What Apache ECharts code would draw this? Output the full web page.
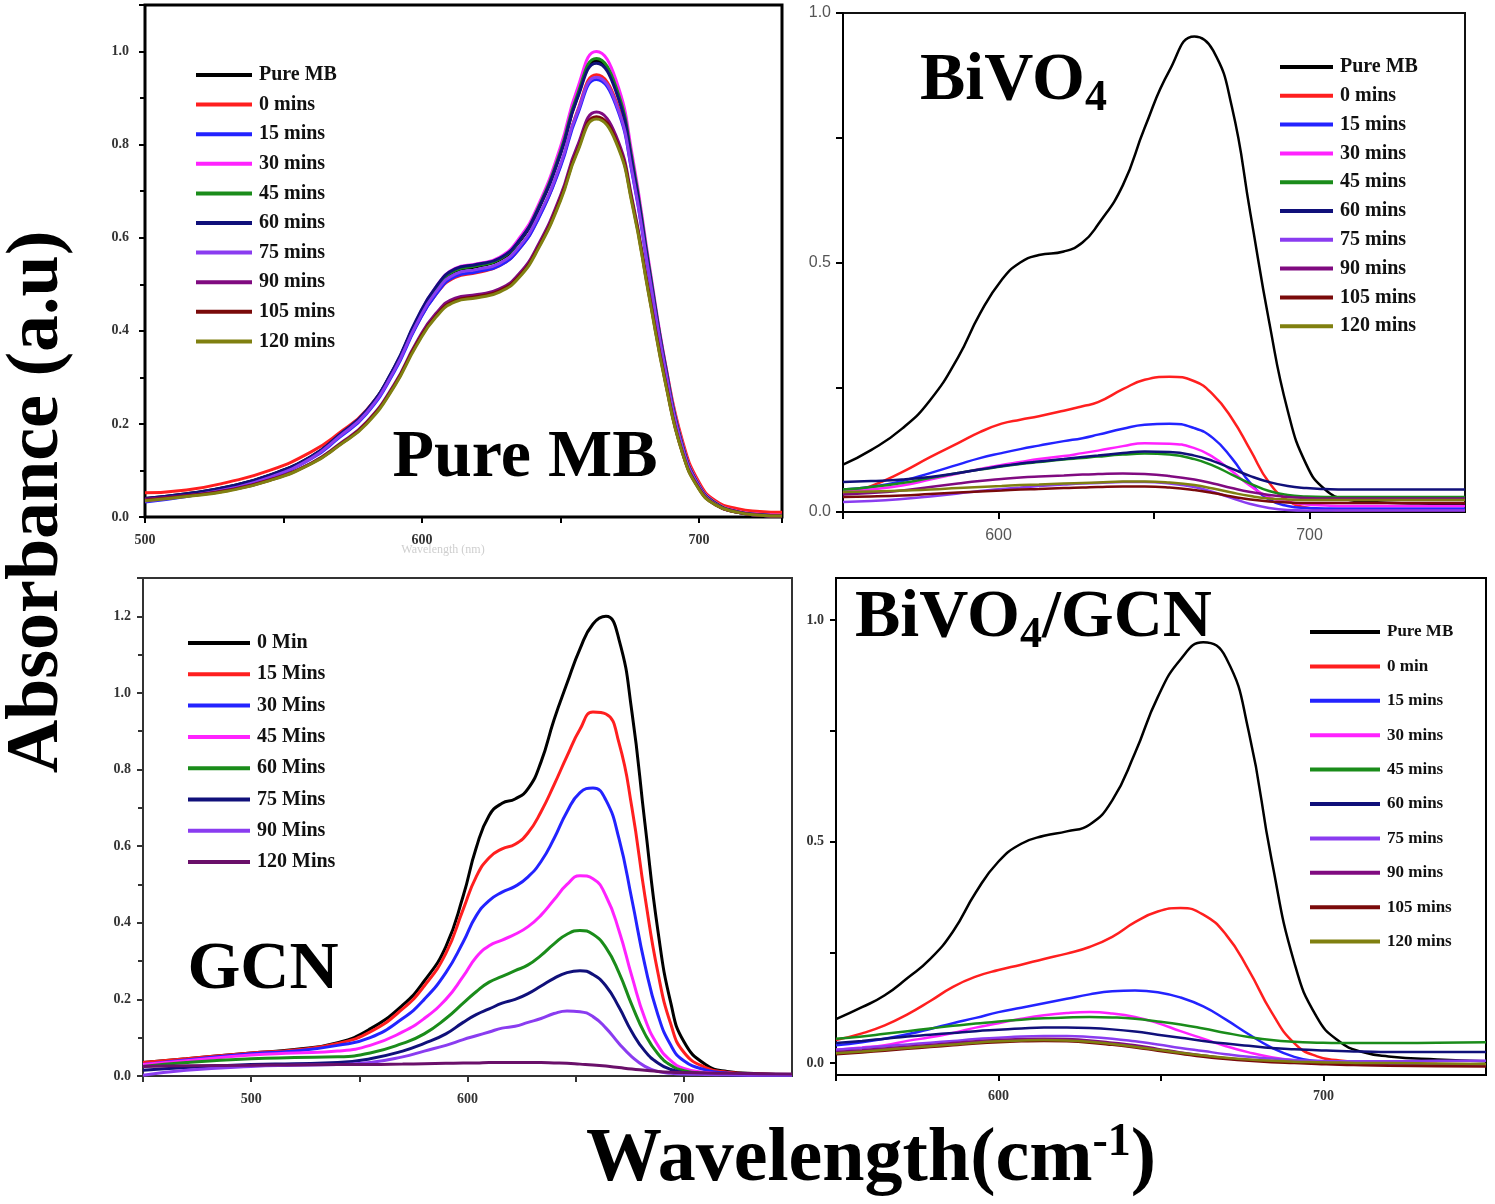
<!DOCTYPE html>
<html>
<head>
<meta charset="utf-8">
<title>MB degradation spectra</title>
<script src="https://cdn.jsdelivr.net/npm/echarts@6/dist/echarts.min.js"></script>
<style>
    html, body { margin: 0; padding: 0; background: #fff; }
    #main { width: 1495px; height: 1204px; }
</style>
</head>
<body>
<div id="main"></div>
<script>
// ---- Pure MB panel (top left) ----
var wlMB = [500, 515, 530, 545, 560, 570, 580, 590, 598, 605, 612, 620, 628, 635, 642, 650, 656, 663, 670, 676, 682, 688, 694, 700, 706, 714, 722, 730];
var mbPure = [0.040, 0.050, 0.065, 0.090, 0.130, 0.175, 0.228, 0.320, 0.420, 0.490, 0.528, 0.538, 0.552, 0.590, 0.660, 0.780, 0.900, 0.980, 0.920, 0.760, 0.535, 0.320, 0.155, 0.068, 0.030, 0.012, 0.006, 0.004];
var mb0 = [0.052, 0.058, 0.075, 0.100, 0.140, 0.180, 0.230, 0.318, 0.412, 0.478, 0.515, 0.525, 0.540, 0.575, 0.642, 0.755, 0.870, 0.950, 0.895, 0.745, 0.530, 0.325, 0.165, 0.075, 0.035, 0.018, 0.012, 0.010];
var mb15 = [0.032, 0.044, 0.060, 0.085, 0.125, 0.170, 0.222, 0.312, 0.410, 0.478, 0.517, 0.527, 0.540, 0.575, 0.640, 0.752, 0.862, 0.940, 0.885, 0.735, 0.520, 0.312, 0.150, 0.065, 0.028, 0.010, 0.004, 0.002];
var mb30 = [0.038, 0.048, 0.063, 0.088, 0.128, 0.174, 0.227, 0.320, 0.422, 0.494, 0.534, 0.544, 0.558, 0.598, 0.670, 0.795, 0.918, 1.000, 0.940, 0.775, 0.545, 0.326, 0.158, 0.070, 0.031, 0.012, 0.006, 0.004];
var mb45 = [0.038, 0.048, 0.063, 0.088, 0.128, 0.174, 0.227, 0.320, 0.420, 0.490, 0.530, 0.540, 0.554, 0.592, 0.664, 0.785, 0.905, 0.985, 0.925, 0.764, 0.538, 0.322, 0.156, 0.068, 0.030, 0.011, 0.005, 0.003];
var mb60 = [0.040, 0.050, 0.065, 0.090, 0.130, 0.176, 0.229, 0.322, 0.424, 0.494, 0.533, 0.543, 0.556, 0.593, 0.662, 0.780, 0.898, 0.975, 0.915, 0.757, 0.533, 0.319, 0.154, 0.067, 0.029, 0.011, 0.005, 0.003];
var mb75 = [0.034, 0.045, 0.060, 0.085, 0.126, 0.172, 0.224, 0.315, 0.414, 0.483, 0.522, 0.532, 0.545, 0.580, 0.646, 0.758, 0.868, 0.945, 0.890, 0.738, 0.522, 0.313, 0.151, 0.066, 0.028, 0.010, 0.004, 0.002];
var mb90 = [0.038, 0.046, 0.058, 0.080, 0.116, 0.156, 0.204, 0.285, 0.375, 0.437, 0.470, 0.478, 0.490, 0.522, 0.585, 0.690, 0.795, 0.870, 0.820, 0.680, 0.482, 0.290, 0.140, 0.062, 0.027, 0.010, 0.004, 0.002];
var mb105 = [0.036, 0.045, 0.057, 0.079, 0.115, 0.154, 0.202, 0.282, 0.371, 0.432, 0.465, 0.474, 0.486, 0.517, 0.579, 0.683, 0.786, 0.860, 0.811, 0.673, 0.477, 0.287, 0.139, 0.061, 0.026, 0.010, 0.004, 0.002];
var mb120 = [0.035, 0.044, 0.056, 0.078, 0.114, 0.153, 0.200, 0.280, 0.368, 0.429, 0.462, 0.471, 0.483, 0.514, 0.576, 0.679, 0.782, 0.855, 0.806, 0.669, 0.474, 0.285, 0.138, 0.060, 0.026, 0.010, 0.004, 0.002];

// ---- BiVO4 panel (top right) ----
var wlBV = [550, 559, 569, 578, 587, 594, 601, 607, 613, 621, 627, 632, 640, 647, 655, 663, 669, 675, 681, 687, 693, 699, 705, 712, 720, 735, 750];
var bvPure = [0.095, 0.124, 0.167, 0.224, 0.31, 0.397, 0.465, 0.5, 0.515, 0.522, 0.54, 0.576, 0.655, 0.77, 0.885, 0.953, 0.925, 0.813, 0.598, 0.382, 0.203, 0.095, 0.045, 0.025, 0.02, 0.017, 0.015];
var bv0 = [0.037, 0.052, 0.08, 0.11, 0.138, 0.16, 0.177, 0.185, 0.192, 0.203, 0.212, 0.22, 0.246, 0.265, 0.271, 0.262, 0.235, 0.188, 0.124, 0.059, 0.023, 0.009, 0.005, 0.004, 0.004, 0.004, 0.004];
var bv15 = [0.045, 0.05, 0.062, 0.078, 0.095, 0.108, 0.118, 0.126, 0.133, 0.142, 0.148, 0.155, 0.167, 0.175, 0.177, 0.168, 0.148, 0.108, 0.058, 0.025, 0.012, 0.008, 0.007, 0.007, 0.007, 0.007, 0.007];
var bv30 = [0.04, 0.045, 0.053, 0.065, 0.077, 0.086, 0.094, 0.1, 0.106, 0.112, 0.118, 0.123, 0.132, 0.138, 0.137, 0.128, 0.11, 0.082, 0.052, 0.03, 0.02, 0.015, 0.013, 0.012, 0.012, 0.012, 0.012];
var bv45 = [0.045, 0.05, 0.058, 0.068, 0.078, 0.085, 0.091, 0.096, 0.1, 0.105, 0.108, 0.111, 0.115, 0.117, 0.115, 0.106, 0.093, 0.075, 0.057, 0.042, 0.034, 0.031, 0.03, 0.03, 0.03, 0.03, 0.03];
var bv60 = [0.06, 0.062, 0.065, 0.07, 0.078, 0.085, 0.092, 0.097, 0.101, 0.106, 0.11, 0.113, 0.118, 0.121, 0.12, 0.113, 0.102, 0.087, 0.072, 0.06, 0.052, 0.048, 0.046, 0.045, 0.045, 0.045, 0.045];
var bv75 = [0.02, 0.022, 0.026, 0.031, 0.037, 0.042, 0.046, 0.049, 0.052, 0.055, 0.057, 0.058, 0.06, 0.06, 0.057, 0.05, 0.04, 0.028, 0.016, 0.008, 0.004, 0.003, 0.003, 0.003, 0.003, 0.003, 0.003];
var bv90 = [0.035, 0.038, 0.043, 0.05, 0.057, 0.062, 0.066, 0.069, 0.071, 0.073, 0.075, 0.076, 0.077, 0.076, 0.072, 0.065, 0.057, 0.048, 0.04, 0.034, 0.03, 0.028, 0.027, 0.027, 0.027, 0.027, 0.027];
var bv105 = [0.03, 0.031, 0.033, 0.036, 0.039, 0.041, 0.043, 0.045, 0.046, 0.048, 0.049, 0.05, 0.051, 0.051, 0.049, 0.044, 0.038, 0.031, 0.025, 0.021, 0.019, 0.018, 0.018, 0.018, 0.018, 0.018, 0.018];
var bv120 = [0.04, 0.041, 0.043, 0.045, 0.048, 0.05, 0.052, 0.054, 0.055, 0.057, 0.058, 0.059, 0.061, 0.061, 0.059, 0.054, 0.047, 0.039, 0.032, 0.027, 0.025, 0.024, 0.024, 0.024, 0.024, 0.024, 0.024];

// ---- GCN panel (bottom left) ----
var wlGCN = [450, 470, 500, 520, 540, 555, 570, 580, 590, 598, 604, 610, 616, 622, 628, 634, 640, 646, 652, 658, 664, 670, 676, 682, 688, 694, 700, 710, 720, 735, 750];
var gcn0 = [0.035, 0.045, 0.06, 0.069, 0.087, 0.123, 0.185, 0.248, 0.338, 0.47, 0.595, 0.68, 0.712, 0.723, 0.75, 0.82, 0.93, 1.025, 1.115, 1.18, 1.2, 1.14, 0.95, 0.66, 0.38, 0.19, 0.09, 0.03, 0.012, 0.006, 0.003];
var gcn15 = [0.035, 0.045, 0.06, 0.068, 0.085, 0.115, 0.175, 0.235, 0.32, 0.435, 0.52, 0.57, 0.593, 0.605, 0.635, 0.69, 0.76, 0.835, 0.905, 0.95, 0.945, 0.87, 0.7, 0.47, 0.27, 0.135, 0.062, 0.022, 0.01, 0.005, 0.003];
var gcn30 = [0.03, 0.042, 0.058, 0.065, 0.08, 0.1, 0.15, 0.2, 0.27, 0.35, 0.418, 0.458, 0.48, 0.495, 0.52, 0.56, 0.62, 0.69, 0.74, 0.752, 0.72, 0.62, 0.46, 0.29, 0.16, 0.08, 0.04, 0.016, 0.008, 0.004, 0.003];
var gcn45 = [0.03, 0.04, 0.055, 0.06, 0.065, 0.08, 0.115, 0.15, 0.2, 0.26, 0.31, 0.34, 0.355, 0.37, 0.39, 0.42, 0.46, 0.5, 0.523, 0.515, 0.47, 0.38, 0.26, 0.15, 0.08, 0.04, 0.02, 0.009, 0.005, 0.003, 0.002];
var gcn60 = [0.025, 0.035, 0.045, 0.048, 0.05, 0.06, 0.085, 0.11, 0.15, 0.19, 0.22, 0.245, 0.26, 0.275, 0.29, 0.315, 0.345, 0.37, 0.38, 0.37, 0.335, 0.27, 0.185, 0.11, 0.058, 0.028, 0.014, 0.007, 0.004, 0.003, 0.002];
var gcn75 = [0.015, 0.022, 0.03, 0.032, 0.035, 0.045, 0.065, 0.085, 0.11, 0.14, 0.16, 0.175, 0.19, 0.2, 0.215, 0.235, 0.255, 0.27, 0.275, 0.265, 0.235, 0.18, 0.115, 0.065, 0.034, 0.017, 0.009, 0.005, 0.003, 0.002, 0.002];
var gcn90 = [0.002, 0.015, 0.025, 0.028, 0.03, 0.035, 0.05, 0.065, 0.08, 0.095, 0.105, 0.115, 0.125, 0.13, 0.14, 0.15, 0.163, 0.17, 0.168, 0.155, 0.125, 0.085, 0.05, 0.025, 0.012, 0.007, 0.005, 0.004, 0.003, 0.002, 0.002];
var gcn120 = [0.025, 0.027, 0.028, 0.029, 0.03, 0.03, 0.031, 0.032, 0.033, 0.034, 0.034, 0.035, 0.035, 0.035, 0.035, 0.035, 0.034, 0.033, 0.031, 0.029, 0.026, 0.022, 0.018, 0.015, 0.012, 0.01, 0.009, 0.008, 0.007, 0.006, 0.005];

// ---- BiVO4/GCN panel (bottom right) ----
var wlBG = [550, 558, 565, 572, 579, 586, 593, 600, 607, 614, 621, 628, 635, 642, 649, 656, 663, 670, 677, 684, 691, 698, 705, 712, 720, 735, 750];
var bgPure = [0.099, 0.126, 0.153, 0.192, 0.235, 0.297, 0.385, 0.455, 0.495, 0.513, 0.523, 0.538, 0.593, 0.7, 0.826, 0.911, 0.95, 0.915, 0.748, 0.46, 0.227, 0.103, 0.048, 0.025, 0.015, 0.008, 0.004];
var bg0 = [0.052, 0.067, 0.085, 0.11, 0.14, 0.172, 0.195, 0.21, 0.222, 0.235, 0.247, 0.262, 0.285, 0.318, 0.342, 0.35, 0.335, 0.29, 0.21, 0.115, 0.045, 0.015, 0.006, 0.003, 0.001, -0.002, -0.004];
var bg15 = [0.04, 0.047, 0.055, 0.065, 0.077, 0.09, 0.102, 0.115, 0.125, 0.135, 0.145, 0.155, 0.162, 0.164, 0.16, 0.148, 0.128, 0.098, 0.065, 0.035, 0.014, 0.004, 0.0, -0.002, -0.003, -0.004, -0.005];
var bg30 = [0.03, 0.035, 0.04, 0.05, 0.058, 0.068, 0.08, 0.09, 0.1, 0.108, 0.113, 0.115, 0.112, 0.104, 0.09, 0.072, 0.055, 0.038, 0.024, 0.013, 0.006, 0.002, 0.0, 0.0, -0.001, -0.002, -0.003];
var bg45 = [0.055, 0.06, 0.066, 0.072, 0.078, 0.084, 0.089, 0.094, 0.098, 0.101, 0.103, 0.104, 0.103, 0.1, 0.094, 0.087, 0.078, 0.068, 0.059, 0.052, 0.048, 0.046, 0.045, 0.045, 0.045, 0.046, 0.047];
var bg60 = [0.045, 0.05, 0.055, 0.06, 0.064, 0.068, 0.072, 0.075, 0.078, 0.08, 0.08, 0.079, 0.076, 0.071, 0.064, 0.057, 0.05, 0.044, 0.039, 0.034, 0.031, 0.029, 0.027, 0.026, 0.025, 0.025, 0.025];
var bg75 = [0.03, 0.034, 0.038, 0.042, 0.046, 0.05, 0.054, 0.057, 0.06, 0.061, 0.061, 0.059, 0.055, 0.049, 0.042, 0.034, 0.027, 0.02, 0.014, 0.01, 0.007, 0.005, 0.004, 0.004, 0.004, 0.005, 0.005];
var bg90 = [0.025, 0.029, 0.033, 0.037, 0.041, 0.045, 0.049, 0.052, 0.054, 0.055, 0.054, 0.051, 0.046, 0.04, 0.032, 0.024, 0.017, 0.011, 0.007, 0.004, 0.002, 0.0, -0.002, -0.003, -0.004, -0.005, -0.006];
var bg105 = [0.02, 0.024, 0.028, 0.032, 0.036, 0.04, 0.044, 0.047, 0.049, 0.05, 0.049, 0.046, 0.041, 0.035, 0.028, 0.021, 0.014, 0.009, 0.005, 0.002, 0.0, -0.002, -0.004, -0.005, -0.006, -0.007, -0.008];
var bg120 = [0.022, 0.026, 0.03, 0.034, 0.038, 0.042, 0.046, 0.049, 0.051, 0.052, 0.051, 0.048, 0.043, 0.037, 0.03, 0.023, 0.017, 0.012, 0.008, 0.005, 0.003, 0.002, 0.001, 0.0, 0.0, -0.001, -0.002];

// legend names and colours
var mbNames = ['Pure MB', '0 mins', '15 mins', '30 mins', '45 mins', '60 mins', '75 mins', '90 mins', '105 mins', '120 mins'];
var bgNames = ['Pure MB', '0 min', '15 mins', '30 mins', '45 mins', '60 mins', '75 mins', '90 mins', '105 mins', '120 mins'];
var gcnNames = ['0 Min', '15 Mins', '30 Mins', '45 Mins', '60 Mins', '75 Mins', '90 Mins', '120 Mins'];
var tenColors = ['#000000', '#ff1f1f', '#2323ff', '#ff22ff', '#1a8c1a', '#10107a', '#8a3cf0', '#800a80', '#7a0a0a', '#808010'];
var gcnColors = ['#000000', '#ff1f1f', '#2323ff', '#ff22ff', '#1a8c1a', '#10107a', '#8a3cf0', '#6a106a'];

var SERIF = '"Liberation Serif", "Times New Roman", serif';
var SANS = '"Liberation Sans", Arial, sans-serif';

var myChart = echarts.init(document.getElementById('main'));

function lineSeries(name, xs, ys, color, width, idx) {
    return {
        type: 'line',
        name: name,
        xAxisIndex: idx,
        yAxisIndex: idx,
        data: xs.map(function (x, i) { return [x, ys[i]]; }),
        showSymbol: false,
        symbol: 'none',
        smooth: 0.5,
        lineStyle: { color: color, width: width },
        itemStyle: { color: color }
    };
}

var series = [];
[mbPure, mb0, mb15, mb30, mb45, mb60, mb75, mb90, mb105, mb120].forEach(function (ys, i) {
    series.push(lineSeries(mbNames[i], wlMB, ys, tenColors[i], 3, 0));
});
[bvPure, bv0, bv15, bv30, bv45, bv60, bv75, bv90, bv105, bv120].forEach(function (ys, i) {
    series.push(lineSeries(mbNames[i], wlBV, ys, tenColors[i], 2.5, 1));
});
[gcn0, gcn15, gcn30, gcn45, gcn60, gcn75, gcn90, gcn120].forEach(function (ys, i) {
    series.push(lineSeries(gcnNames[i], wlGCN, ys, gcnColors[i], 3, 2));
});
[bgPure, bg0, bg15, bg30, bg45, bg60, bg75, bg90, bg105, bg120].forEach(function (ys, i) {
    series.push(lineSeries(bgNames[i], wlBG, ys, tenColors[i], 2.5, 3));
});

function legendBox(names, left, top, itemW, gap, fontSize, lineH) {
    return {
        data: names,
        orient: 'vertical',
        left: left,
        top: top,
        padding: 0,
        icon: 'rect',
        itemWidth: itemW,
        itemHeight: 4,
        itemGap: gap,
        selectedMode: false,
        textStyle: { fontFamily: SERIF, fontWeight: 'bold', fontSize: fontSize, lineHeight: lineH, color: '#111', padding: [0, 0, 0, 2] }
    };
}

function axisLineOf(color) {
    return { show: true, onZero: false, lineStyle: { color: color, width: 2 } };
}

function labelStyle(font, size, margin, formatter, showMax) {
    return {
        fontFamily: font,
        fontWeight: font === SERIF ? 'bold' : 'normal',
        fontSize: size,
        color: font === SERIF ? '#333' : '#555',
        margin: margin,
        showMaxLabel: !!showMax,
        formatter: formatter
    };
}
var oneDec = function (v) { return v.toFixed(1); };
var hundreds = function (v) { return v % 100 === 0 ? String(v) : ''; };
var halfSteps = function (v) { return Math.abs(v * 2 - Math.round(v * 2)) < 1e-6 ? v.toFixed(1) : ''; };

option = {
    backgroundColor: '#ffffff',
    animation: false,
    grid: [
        { left: 145, top: 5, width: 637, height: 512, show: true, borderColor: '#000', borderWidth: 3 },
        { left: 843, top: 13, width: 622, height: 499, show: true, borderColor: '#111', borderWidth: 2 },
        { left: 143, top: 578, width: 649, height: 498, show: true, borderColor: '#333', borderWidth: 2 },
        { left: 836, top: 578, width: 650, height: 497, show: true, borderColor: '#000', borderWidth: 2 }
    ],
    xAxis: [
        {
            gridIndex: 0, type: 'value', min: 500, max: 730, interval: 100,
            axisLine: axisLineOf('#000'),
            axisTick: { show: true, length: 6, lineStyle: { color: '#000', width: 2 } },
            minorTick: { show: true, splitNumber: 2, length: 6, lineStyle: { color: '#000', width: 2 } },
            splitLine: { show: false },
            axisLabel: labelStyle(SERIF, 14, 16, function (v) { return String(v); })
        },
        {
            gridIndex: 1, type: 'value', min: 550, max: 750, interval: 50,
            axisLine: axisLineOf('#000'),
            axisTick: { show: true, length: 7, lineStyle: { color: '#000', width: 2 } },
            splitLine: { show: false },
            axisLabel: labelStyle(SANS, 16, 16, hundreds)
        },
        {
            gridIndex: 2, type: 'value', min: 450, max: 750, interval: 50,
            axisLine: axisLineOf('#333'),
            axisTick: { show: true, length: 6, lineStyle: { color: '#333', width: 2 } },
            splitLine: { show: false },
            axisLabel: labelStyle(SERIF, 14, 16, hundreds)
        },
        {
            gridIndex: 3, type: 'value', min: 550, max: 750, interval: 50,
            axisLine: axisLineOf('#000'),
            axisTick: { show: true, length: 6, lineStyle: { color: '#000', width: 2 } },
            splitLine: { show: false },
            axisLabel: labelStyle(SERIF, 14, 14, hundreds)
        }
    ],
    yAxis: [
        {
            gridIndex: 0, type: 'value', min: 0, max: 1.1, interval: 0.2,
            axisLine: axisLineOf('#000'),
            axisTick: { show: true, length: 6, lineStyle: { color: '#000', width: 2 } },
            minorTick: { show: true, splitNumber: 2, length: 5, lineStyle: { color: '#000', width: 2 } },
            splitLine: { show: false },
            axisLabel: labelStyle(SERIF, 14, 16, oneDec)
        },
        {
            gridIndex: 1, type: 'value', min: 0, max: 1, interval: 0.25,
            axisLine: axisLineOf('#000'),
            axisTick: { show: true, length: 7, lineStyle: { color: '#000', width: 2 } },
            splitLine: { show: false },
            axisLabel: labelStyle(SANS, 16, 12, halfSteps, true)
        },
        {
            gridIndex: 2, type: 'value', min: 0, max: 1.3, interval: 0.2,
            axisLine: axisLineOf('#333'),
            axisTick: { show: true, length: 6, lineStyle: { color: '#333', width: 2 } },
            minorTick: { show: true, splitNumber: 2, length: 5, lineStyle: { color: '#333', width: 2 } },
            splitLine: { show: false },
            axisLabel: labelStyle(SERIF, 14, 12, oneDec)
        },
        {
            gridIndex: 3, type: 'value', min: -0.027, max: 1.095,
            axisLine: axisLineOf('#000'),
            axisTick: { show: true, length: 6, lineStyle: { color: '#000', width: 2 }, customValues: [0, 0.25, 0.5, 0.75, 1.0] },
            splitLine: { show: false },
            axisLabel: {
                fontFamily: SERIF, fontWeight: 'bold', fontSize: 14, color: '#333', margin: 12,
                customValues: [0, 0.5, 1.0],
                formatter: oneDec
            }
        }
    ],
    legend: [
        legendBox(mbNames, 196, 64, 56, 7.6, 20, 22),
        legendBox(mbNames, 1280, 56, 53, 6.8, 20, 22),
        legendBox(gcnNames, 188, 632, 62, 9.3, 20, 22),
        legendBox(bgNames, 1310, 622, 70, 14.4, 17, 20)
    ],
    graphic: [
        {
            type: 'text', x: 525, y: 458,
            style: { text: 'Pure MB', fill: '#000', font: 'bold 68px ' + SERIF, align: 'center', verticalAlign: 'middle' }
        },
        {
            type: 'text', x: 920, y: 81,
            style: {
                text: '{m|BiVO}{s|4}', align: 'left', verticalAlign: 'middle',
                rich: {
                    m: { fontFamily: SERIF, fontWeight: 'bold', fontSize: 68, lineHeight: 80, fill: '#000' },
                    s: { fontFamily: SERIF, fontWeight: 'bold', fontSize: 44, lineHeight: 30, verticalAlign: 'bottom', fill: '#000' }
                }
            }
        },
        {
            type: 'text', x: 263, y: 970,
            style: { text: 'GCN', fill: '#000', font: 'bold 68px ' + SERIF, align: 'center', verticalAlign: 'middle' }
        },
        {
            type: 'text', x: 855, y: 618,
            style: {
                text: '{m|BiVO}{s|4}{m|/GCN}', align: 'left', verticalAlign: 'middle',
                rich: {
                    m: { fontFamily: SERIF, fontWeight: 'bold', fontSize: 68, lineHeight: 80, fill: '#000' },
                    s: { fontFamily: SERIF, fontWeight: 'bold', fontSize: 44, lineHeight: 30, verticalAlign: 'bottom', fill: '#000' }
                }
            }
        },
        {
            type: 'text', x: 38, y: 502, rotation: Math.PI / 2,
            style: { text: 'Absorbance (a.u)', fill: '#000', font: 'bold 74px ' + SERIF, align: 'center', verticalAlign: 'middle' }
        },
        {
            type: 'text', x: 871, y: 1160,
            style: {
                text: '{m|Wavelength(cm}{s|-1}{m|)}', align: 'center', verticalAlign: 'middle',
                rich: {
                    m: { fontFamily: SERIF, fontWeight: 'bold', fontSize: 76, lineHeight: 80, fill: '#000' },
                    s: { fontFamily: SERIF, fontWeight: 'bold', fontSize: 46, lineHeight: 40, verticalAlign: 'top', fill: '#000' }
                }
            }
        },
        {
            type: 'text', x: 443, y: 550,
            style: { text: 'Wavelength (nm)', fill: '#cfcfcf', font: '12px ' + SERIF, align: 'center', verticalAlign: 'middle' }
        }
    ],
    series: series
};
myChart.setOption(option);
</script>
</body>
</html>
